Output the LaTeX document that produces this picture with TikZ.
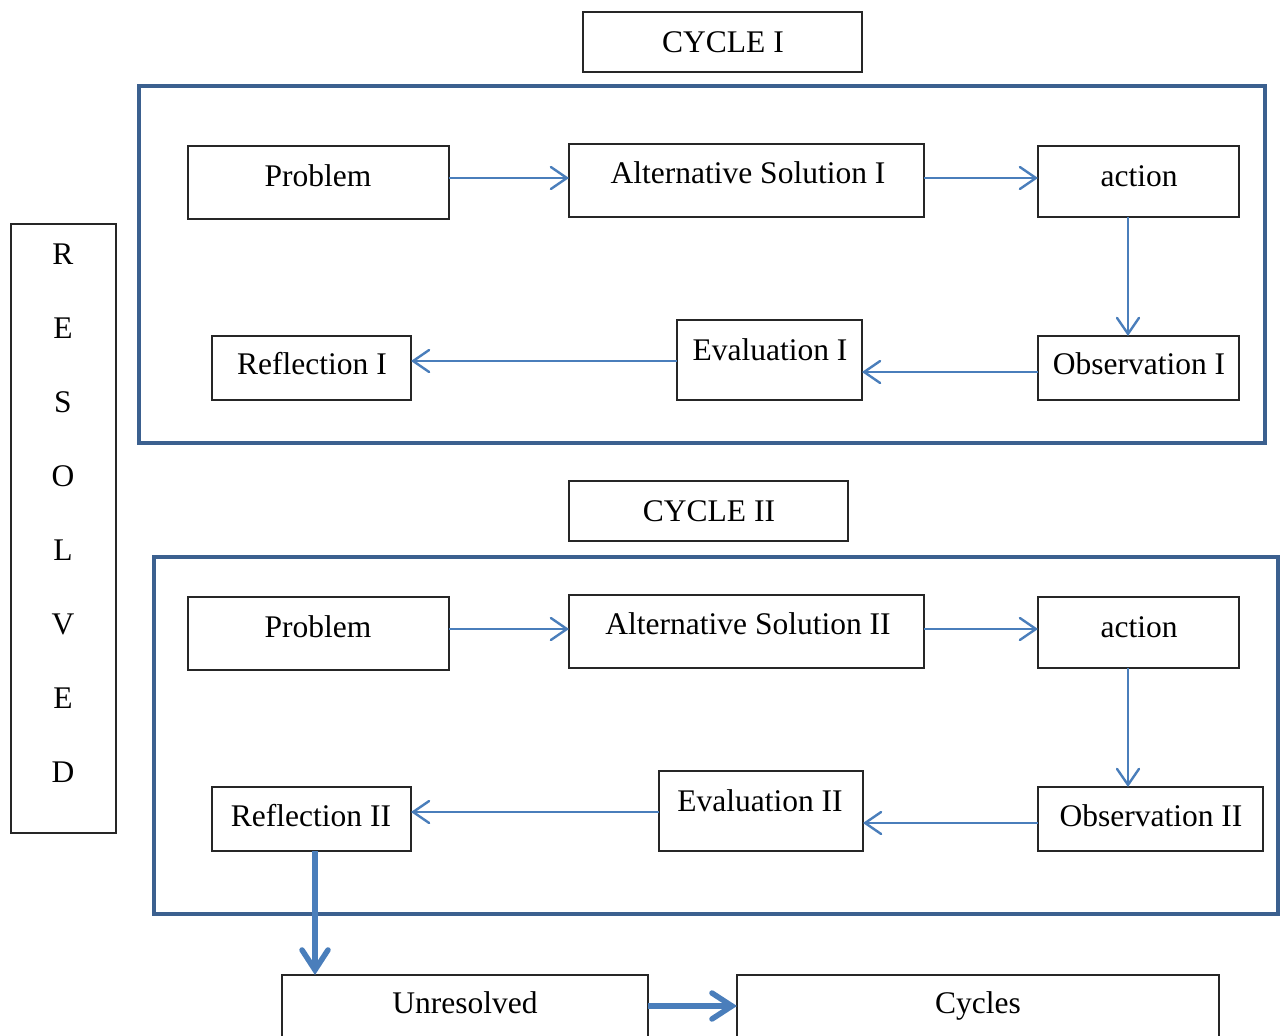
\documentclass[tikz,border=0pt]{standalone}
\usepackage{fontspec}
\setmainfont{Liberation Serif}
\usetikzlibrary{arrows.meta}
\definecolor{arrblue}{RGB}{74,126,187}
\definecolor{frameblue}{RGB}{59,96,143}
\begin{document}
\begin{tikzpicture}[x=1pt,y=-1pt,
  box/.style={draw=black!85,line width=1.2pt,inner sep=0pt,outer sep=0pt,anchor=north west,rectangle},
  frm/.style={draw=frameblue,line width=4pt,inner sep=0pt,outer sep=0pt,anchor=north west,rectangle},
  txt/.style={anchor=base,inner sep=0pt,font=\fontsize{31.5}{36}\selectfont},
  arr/.style={draw=arrblue,line width=2.4pt,-{Straight Barb[length=16pt,width=22pt,line cap=round]}},
  tarr/.style={draw=arrblue,line width=5.5pt,-{Straight Barb[length=20pt,width=26pt,line cap=round]}}]
\useasboundingbox (0,0) rectangle (1283,1036);
\clip (0,0) rectangle (1283,1036);
% frames
\node[frm,minimum width=1126pt,minimum height=357pt] (f1) at (139,86) {};
\node[frm,minimum width=1124pt,minimum height=357pt] (f2) at (154,557) {};
% titles
\node[box,minimum width=279pt,minimum height=60pt] (c1) at (583,12) {};
\node[txt] (c1t) at (723,52) {CYCLE I};
\node[box,minimum width=279pt,minimum height=60pt] (c2) at (569,481) {};
\node[txt] (c2t) at (709,521) {CYCLE II};
% resolved
\node[box,minimum width=105pt,minimum height=609pt] (res) at (11,224) {};
\node[txt] (r1) at (63,264) {R};
\node[txt] (r2) at (63,338) {E};
\node[txt] (r3) at (63,412) {S};
\node[txt] (r4) at (63,486) {O};
\node[txt] (r5) at (63,560) {L};
\node[txt] (r6) at (63,634) {V};
\node[txt] (r7) at (63,708) {E};
\node[txt] (r8) at (63,782) {D};
% cycle I
\node[box,minimum width=261pt,minimum height=73pt] (p1) at (188,146) {};
\node[txt] (p1t) at (318,186) {Problem};
\node[box,minimum width=355pt,minimum height=73pt] (a1) at (569,144) {};
\node[txt] (a1t) at (748,183) {Alternative Solution I};
\node[box,minimum width=201pt,minimum height=71pt] (ac1) at (1038,146) {};
\node[txt] (ac1t) at (1139,186) {action};
\node[box,minimum width=201pt,minimum height=64pt] (o1) at (1038,336) {};
\node[txt] (o1t) at (1139,374) {Observation I};
\node[box,minimum width=185pt,minimum height=80pt] (e1) at (677,320) {};
\node[txt] (e1t) at (770,360) {Evaluation I};
\node[box,minimum width=199pt,minimum height=64pt] (rf1) at (212,336) {};
\node[txt] (rf1t) at (312,374) {Reflection I};
\draw[arr] (p1.east |- 0,178) -- (a1.west |- 0,178);
\draw[arr] (a1.east |- 0,178) -- (ac1.west |- 0,178);
\draw[arr] (ac1.south -| 1128,0) -- (o1.north -| 1128,0);
\draw[arr] (o1.west |- 0,372) -- (e1.east |- 0,372);
\draw[arr] (e1.west |- 0,361) -- (rf1.east |- 0,361);
% cycle II
\node[box,minimum width=261pt,minimum height=73pt] (p2) at (188,597) {};
\node[txt] (p2t) at (318,637) {Problem};
\node[box,minimum width=355pt,minimum height=73pt] (a2) at (569,595) {};
\node[txt] (a2t) at (748,634) {Alternative Solution II};
\node[box,minimum width=201pt,minimum height=71pt] (ac2) at (1038,597) {};
\node[txt] (ac2t) at (1139,637) {action};
\node[box,minimum width=225pt,minimum height=64pt] (o2) at (1038,787) {};
\node[txt] (o2t) at (1151,826) {Observation II};
\node[box,minimum width=204pt,minimum height=80pt] (e2) at (659,771) {};
\node[txt] (e2t) at (760,811) {Evaluation II};
\node[box,minimum width=199pt,minimum height=64pt] (rf2) at (212,787) {};
\node[txt] (rf2t) at (311,826) {Reflection II};
\draw[arr] (p2.east |- 0,629) -- (a2.west |- 0,629);
\draw[arr] (a2.east |- 0,629) -- (ac2.west |- 0,629);
\draw[arr] (ac2.south -| 1128,0) -- (o2.north -| 1128,0);
\draw[arr] (o2.west |- 0,823) -- (e2.east |- 0,823);
\draw[arr] (e2.west |- 0,812) -- (rf2.east |- 0,812);
% bottom
\node[box,minimum width=366pt,minimum height=80pt] (un) at (282,975) {};
\node[txt] (unt) at (465,1013) {Unresolved};
\node[box,minimum width=482pt,minimum height=80pt] (cy) at (737,975) {};
\node[txt] (cyt) at (978,1013) {Cycles};
\draw[tarr] (rf2.south -| 315,0) -- (un.north -| 315,0);
\draw[tarr] (un.east |- 0,1006) -- (cy.west |- 0,1006);
\end{tikzpicture}
\end{document}
